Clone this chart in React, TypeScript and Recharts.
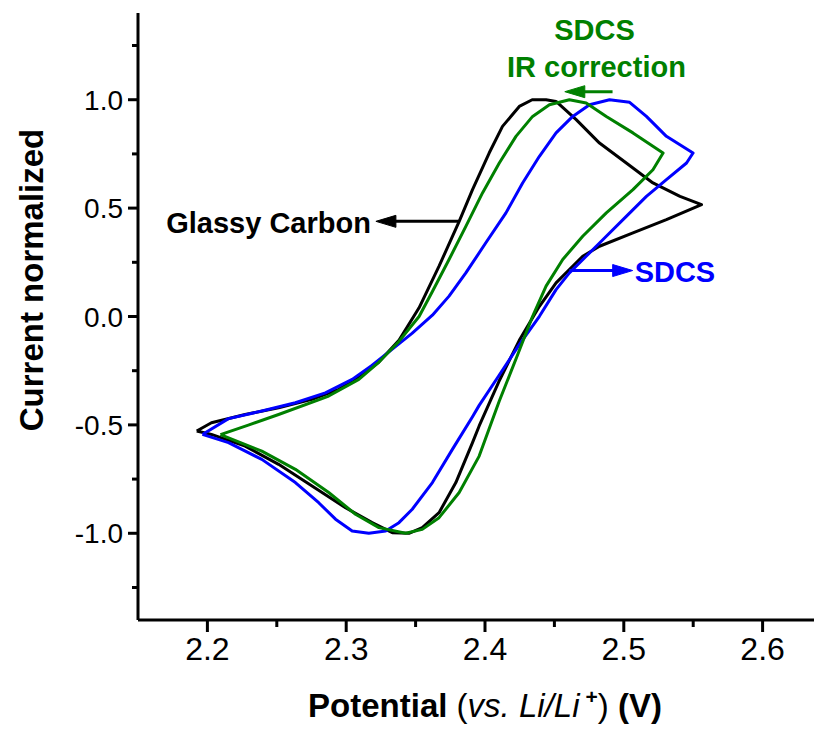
import React from 'react';
import { LineChart, Line, XAxis, YAxis, ReferenceLine, ReferenceDot } from 'recharts';

// ---- Data (potential V vs. Li/Li+, normalized current) ----
// Glassy Carbon (black), loop starting at the low-potential vertex
const GC_V = [2.1923, 2.2029, 2.2272, 2.2513, 2.2754, 2.2947, 2.3091, 2.3236, 2.338, 2.3525, 2.3669, 2.3814, 2.391, 2.403, 2.4126, 2.4247, 2.434, 2.444, 2.4512, 2.4657, 2.4825, 2.5018, 2.521, 2.5405, 2.556,
  2.5307, 2.5066, 2.4825, 2.4704, 2.4608, 2.4512, 2.4392, 2.4247, 2.41, 2.3958, 2.391, 2.379, 2.3669, 2.3548, 2.3452, 2.3332, 2.3187, 2.2995, 2.2754, 2.2513, 2.2272, 2.2029, 2.1923];
const GC_I = [-0.528, -0.49, -0.452, -0.421, -0.382, -0.336, -0.28, -0.21, -0.11, 0.04, 0.232, 0.439, 0.585, 0.754, 0.877, 0.969, 1.0, 1.0, 0.992, 0.908, 0.8, 0.708, 0.616, 0.554, 0.516,
  0.447, 0.386, 0.324, 0.278, 0.217, 0.155, 0.047, -0.11, -0.3, -0.505, -0.582, -0.766, -0.905, -0.974, -1.0, -0.997, -0.951, -0.882, -0.782, -0.682, -0.598, -0.544, -0.528];

// SDCS (blue)
const SDCS_V = [2.1964, 2.2152, 2.2392, 2.2634, 2.285, 2.3043, 2.3185, 2.333, 2.3474, 2.3621, 2.3741, 2.3862, 2.4006, 2.4151, 2.4271, 2.4392, 2.4512, 2.4632, 2.4753, 2.4897, 2.5042, 2.5163, 2.5307, 2.5499,
  2.5452, 2.5307, 2.5163, 2.5018, 2.4874, 2.4729, 2.4608, 2.4512, 2.4392, 2.4247, 2.4103, 2.3958, 2.391, 2.3765, 2.3621, 2.3476, 2.338, 2.3284, 2.3163, 2.3043, 2.2923, 2.2802, 2.2634, 2.2392, 2.2152, 2.1964];
const SDCS_I = [-0.544, -0.471, -0.436, -0.398, -0.352, -0.29, -0.226, -0.152, -0.078, 0.006, 0.094, 0.201, 0.34, 0.478, 0.616, 0.739, 0.847, 0.923, 0.977, 1.0, 0.988, 0.923, 0.831, 0.754,
  0.708, 0.631, 0.554, 0.462, 0.37, 0.278, 0.201, 0.124, 0.001, -0.13, -0.27, -0.41, -0.462, -0.613, -0.766, -0.889, -0.951, -0.989, -1.0, -0.989, -0.935, -0.859, -0.766, -0.659, -0.582, -0.544];

// SDCS with IR correction (green)
const IR_V = [2.2094, 2.23, 2.2513, 2.2874, 2.3091, 2.3236, 2.338, 2.3525, 2.3621, 2.3741, 2.3862, 2.3982, 2.4103, 2.4223, 2.4343, 2.4464, 2.4608, 2.4729, 2.4874, 2.5066, 2.5283,
  2.521, 2.5066, 2.4874, 2.4704, 2.456, 2.444, 2.4343, 2.4233, 2.4103, 2.3958, 2.3814, 2.3669, 2.3548, 2.3428, 2.3236, 2.3067, 2.2874, 2.2634, 2.2392, 2.2094];
const IR_I = [-0.545, -0.5, -0.452, -0.367, -0.29, -0.21, -0.115, 0.0, 0.115, 0.263, 0.416, 0.57, 0.708, 0.831, 0.923, 0.977, 1.0, 0.985, 0.923, 0.847, 0.754,
  0.677, 0.585, 0.478, 0.37, 0.263, 0.14, 0.001, -0.18, -0.39, -0.644, -0.812, -0.928, -0.982, -1.0, -0.974, -0.912, -0.812, -0.705, -0.621, -0.545];

const X_DOMAIN = [2.15, 2.65];
const Y_DOMAIN = [-1.4, 1.4];
const X_TICKS = [2.2, 2.25, 2.3, 2.35, 2.4, 2.45, 2.5, 2.55, 2.6];
const X_LABELED = [2.2, 2.3, 2.4, 2.5, 2.6];
const Y_TICKS = [-1.25, -1, -0.75, -0.5, -0.25, 0, 0.25, 0.5, 0.75, 1, 1.25];
const Y_LABELED = [-1, -0.5, 0, 0.5, 1];

const X_TITLE = 'Potential';
const Y_TITLE = 'Current normalized';

// annotation anchors (data coordinates)
const GC_LABEL = { v: 2.3178, i: 0.387, text: 'Glassy Carbon' };
const GC_ARROW = { from: 2.3814, to: 2.3214, i: 0.439 };
const SDCS_LABEL = { v: 2.5078, i: 0.157, text: 'SDCS' };
const SDCS_ARROW = { from: 2.4608, to: 2.5064, i: 0.212 };
const IR_LABEL1 = { v: 2.4789, i: 1.276, text: 'SDCS' };
const IR_LABEL2 = { v: 2.4803, i: 1.106, text: 'IR correction' };
const IR_ARROW = { from: 2.4919, to: 2.4575, i: 1.037 };

const BLACK = '#000000';
const BLUE = '#0000ff';
const GREEN = '#008000';
const FONT = '"Liberation Sans", Arial, Helvetica, sans-serif';

const zip = (vs: number[], is: number[]) => vs.map((v, k) => ({ v, i: is[k] }));
const GC = zip(GC_V, GC_I);
const SDCS = zip(SDCS_V, SDCS_I);
const IR = zip(IR_V, IR_I);

const near = (list: number[], v: number) => list.some((t) => Math.abs(t - v) < 1e-9);

const BottomTick = (props: any) => {
  const { x, y, payload } = props;
  const val = payload.value as number;
  const major = near(X_LABELED, val);
  return (
    <g>
      <line x1={x} x2={x} y1={y} y2={y + (major ? 12 : 7)} stroke={BLACK} strokeWidth={3} />
      {major && (
        <text x={x} y={y + 40} textAnchor="middle" fontSize={32} fontFamily={FONT} fill={BLACK}>
          {val.toFixed(1)}
        </text>
      )}
    </g>
  );
};

const TopTick = (props: any) => {
  const { x, y } = props;
  return <line x1={x} x2={x} y1={y} y2={y - 3} stroke={BLACK} strokeWidth={3} />;
};

const LeftTick = (props: any) => {
  const { x, y, payload } = props;
  const val = payload.value as number;
  const major = near(Y_LABELED, val);
  return (
    <g>
      <line x1={x - (major ? 10 : 6)} x2={x} y1={y} y2={y} stroke={BLACK} strokeWidth={3} />
      {major && (
        <text x={x - 15} y={y + 10} textAnchor="end" fontSize={28} fontFamily={FONT} fill={BLACK}>
          {val.toFixed(1)}
        </text>
      )}
    </g>
  );
};

const textShape = (txt: string, color: string, anchor: 'start' | 'middle' | 'end') => (p: any) => (
  <text x={p.cx} y={p.cy} textAnchor={anchor} fontSize={29} fontWeight="bold" fontFamily={FONT} fill={color}>
    {txt}
  </text>
);

const headShape = (color: string, dir: 1 | -1) => (p: any) => {
  const { cx, cy } = p;
  const L = 20;
  const H = 6;
  return (
    <polygon
      points={`${cx},${cy} ${cx - dir * L},${cy - H} ${cx - dir * L},${cy + H}`}
      fill={color}
      stroke={color}
      strokeWidth={1}
    />
  );
};

const ax = { xAxisId: 'b', yAxisId: 'l' } as const;

export default function App() {
  return (
    <div style={{ position: 'relative', width: 814, height: 717, overflow: 'hidden' }}>
      <LineChart width={840} height={717} margin={{ top: 5, right: 16, bottom: 0, left: 0 }}>
        <XAxis
          xAxisId="b"
          type="number"
          dataKey="v"
          domain={X_DOMAIN}
          ticks={X_TICKS}
          interval={0}
          allowDataOverflow
          height={105}
          tickSize={0}
          tickMargin={0}
          tickLine={false}
          axisLine={{ stroke: BLACK, strokeWidth: 3 }}
          tick={<BottomTick />}
        />
        <XAxis
          xAxisId="t"
          orientation="top"
          type="number"
          dataKey="v"
          domain={X_DOMAIN}
          ticks={X_TICKS}
          interval={0}
          allowDataOverflow
          height={0}
          tickSize={0}
          tickMargin={0}
          tickLine={false}
          axisLine={{ stroke: BLACK, strokeWidth: 3 }}
          tick={<TopTick />}
        />
        <YAxis
          yAxisId="l"
          type="number"
          dataKey="i"
          domain={Y_DOMAIN}
          ticks={Y_TICKS}
          interval={0}
          allowDataOverflow
          width={130}
          tickSize={0}
          tickMargin={0}
          tickLine={false}
          axisLine={{ stroke: BLACK, strokeWidth: 3 }}
          tick={<LeftTick />}
        />
        <Line {...ax} data={GC} dataKey="i" type="linear" stroke={BLACK} strokeWidth={3} dot={false} activeDot={false} isAnimationActive={false} strokeLinejoin="round" />
        <Line {...ax} data={SDCS} dataKey="i" type="linear" stroke={BLUE} strokeWidth={3} dot={false} activeDot={false} isAnimationActive={false} strokeLinejoin="round" />
        <Line {...ax} data={IR} dataKey="i" type="linear" stroke={GREEN} strokeWidth={3} dot={false} activeDot={false} isAnimationActive={false} strokeLinejoin="round" />

        {/* Glassy Carbon annotation */}
        <ReferenceLine {...ax} segment={[{ x: GC_ARROW.from, y: GC_ARROW.i }, { x: GC_ARROW.to + 0.01, y: GC_ARROW.i }]} stroke={BLACK} strokeWidth={3} />
        <ReferenceDot {...ax} x={GC_ARROW.to} y={GC_ARROW.i} r={0} shape={headShape(BLACK, -1)} />
        <ReferenceDot {...ax} x={GC_LABEL.v} y={GC_LABEL.i} r={0} shape={textShape(GC_LABEL.text, BLACK, 'end')} />

        {/* SDCS annotation */}
        <ReferenceLine {...ax} segment={[{ x: SDCS_ARROW.from, y: SDCS_ARROW.i }, { x: SDCS_ARROW.to - 0.01, y: SDCS_ARROW.i }]} stroke={BLUE} strokeWidth={3} />
        <ReferenceDot {...ax} x={SDCS_ARROW.to} y={SDCS_ARROW.i} r={0} shape={headShape(BLUE, 1)} />
        <ReferenceDot {...ax} x={SDCS_LABEL.v} y={SDCS_LABEL.i} r={0} shape={textShape(SDCS_LABEL.text, BLUE, 'start')} />

        {/* IR correction annotation */}
        <ReferenceLine {...ax} segment={[{ x: IR_ARROW.from, y: IR_ARROW.i }, { x: IR_ARROW.to + 0.01, y: IR_ARROW.i }]} stroke={GREEN} strokeWidth={3} />
        <ReferenceDot {...ax} x={IR_ARROW.to} y={IR_ARROW.i} r={0} shape={headShape(GREEN, -1)} />
        <ReferenceDot {...ax} x={IR_LABEL1.v} y={IR_LABEL1.i} r={0} shape={textShape(IR_LABEL1.text, GREEN, 'middle')} />
        <ReferenceDot {...ax} x={IR_LABEL2.v} y={IR_LABEL2.i} r={0} shape={textShape(IR_LABEL2.text, GREEN, 'middle')} />
      </LineChart>
      <svg width={814} height={717} style={{ position: 'absolute', left: 0, top: 0, pointerEvents: 'none' }}>
        <text x={477} y={709} textAnchor="middle" fontSize={33} fontFamily={FONT} fill={BLACK}>
          <tspan fontWeight="bold">{X_TITLE} </tspan>
          <tspan>(</tspan>
          <tspan fontStyle="italic">vs. Li/Li</tspan>
          <tspan fontSize={21} fontWeight="bold" dx={6} dy={-13}>+</tspan>
          <tspan dy={13}>)</tspan>
          <tspan fontWeight="bold"> (V)</tspan>
        </text>
        <text x={35} y={272} transform="rotate(-90, 35, 272)" textAnchor="middle" fontSize={33} fontWeight="bold" fontFamily={FONT} fill={BLACK}>
          {Y_TITLE}
        </text>
      </svg>
    </div>
  );
}
